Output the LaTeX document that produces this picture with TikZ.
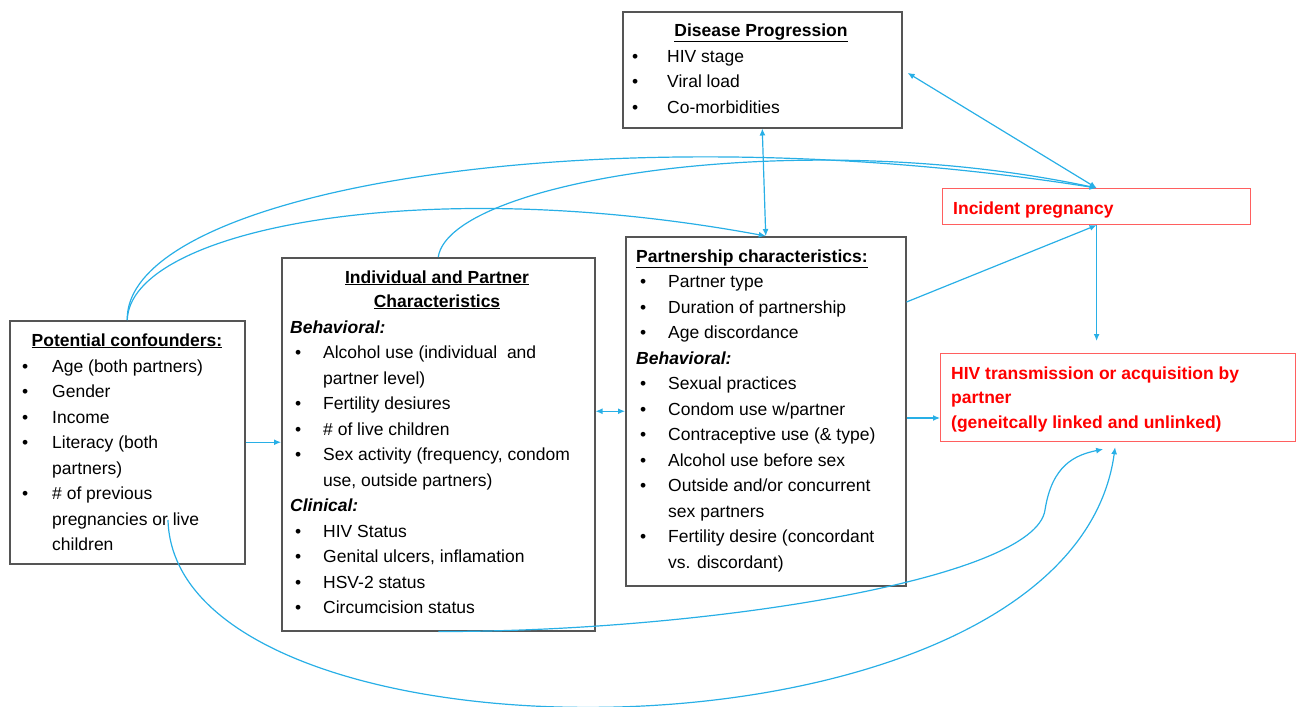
\documentclass[tikz,border=0pt]{standalone}
\usepackage{fontspec}
\setmainfont{Liberation Sans}
\usetikzlibrary{arrows.meta,calc}
\definecolor{arr}{RGB}{40,175,230}
\definecolor{hred}{RGB}{255,0,0}
\definecolor{bred}{RGB}{255,95,95}
\definecolor{bgray}{RGB}{85,85,85}
\newlength\bind
\newlength\tind
\newcommand\itm[1]{\par\hangindent=\tind\hangafter=1\noindent\hspace*{\bind}\makebox[\dimexpr\tind-\bind\relax][l]{\textbullet}#1}
\newcommand\hdr[1]{\par\noindent\textbf{\textit{#1}}}
\tikzset{
  box/.style={draw=bgray, line width=1.5pt, inner sep=0pt, anchor=north west},
  rbox/.style={draw=bred, line width=1.2pt, inner sep=0pt, anchor=north west},
  conn/.style={draw=arr, line width=1.2pt},
  arrowend/.style={-{Latex[length=7pt,width=6pt]}},
  arrowboth/.style={{Latex[length=7pt,width=6pt]}-{Latex[length=7pt,width=6pt]}},
  txt/.style={inner sep=0pt, anchor=base west, font=\fontsize{17.5}{25.5}\selectfont},
  ttl/.style={inner sep=0pt, anchor=base, font=\fontsize{17.5}{24}\selectfont\bfseries},
}
\begin{document}
\begin{tikzpicture}[x=1pt,y=-1pt]
\useasboundingbox (0,0) rectangle (1302,707);
% boxes
\node[box, minimum width=279, minimum height=116] (dis) at (622,11) {};
\node[box, minimum width=235, minimum height=243] (conf) at (9,320) {};
\node[box, minimum width=313, minimum height=373] (indiv) at (281,257) {};
\node[box, minimum width=280, minimum height=349] (part) at (625,236) {};
\node[rbox, minimum width=308, minimum height=36] (inc) at (942,188) {};
\node[rbox, minimum width=355, minimum height=88] (hiv) at (940,353) {};
% Disease progression
\node[ttl] (distitle) at (761,36) {\underline{Disease Progression}};
\node[txt] (dislist) at (632,62) {\parbox[t]{260pt}{\setlength\bind{0pt}\setlength\tind{35pt}\raggedright
\itm{HIV stage}\itm{Viral load}\itm{Co-morbidities}\par}};
% Potential confounders
\node[ttl] (conftitle) at (127,346) {\underline{Potential confounders:}};
\node[txt] (conflist) at (22,372) {\parbox[t]{220pt}{\setlength\bind{0pt}\setlength\tind{30pt}\raggedright
\itm{Age (both partners)}\itm{Gender}\itm{Income}\itm{Literacy (both\newline partners)}\itm{\# of previous\newline pregnancies or live\newline children}\par}};
% Individual and partner
\node[ttl] (indt1) at (437,283) {\underline{Individual and Partner}};
\node[ttl] (indt2) at (437,307) {\underline{Characteristics}};
\node[txt] (indlist) at (290,333) {\parbox[t]{300pt}{\setlength\bind{5pt}\setlength\tind{33pt}\raggedright
\hdr{Behavioral:}\itm{Alcohol use (individual\ \ and\newline partner level)}\itm{Fertility desiures}\itm{\# of live children}\itm{Sex activity (frequency, condom\newline use, outside partners)}\hdr{Clinical:}\itm{HIV Status}\itm{Genital ulcers, inflamation}\itm{HSV-2 status}\itm{Circumcision status}\par}};
% Partnership
\node[txt] (partlist) at (636,262) {\parbox[t]{265pt}{\setlength\bind{4pt}\setlength\tind{32pt}\raggedright
\noindent\underline{\textbf{Partnership characteristics:}}\itm{Partner type}\itm{Duration of partnership}\itm{Age discordance}\hdr{Behavioral:}\itm{Sexual practices}\itm{Condom use w/partner}\itm{Contraceptive use (\& type)}\itm{Alcohol use before sex}\itm{Outside and/or concurrent\newline sex partners}\itm{Fertility desire (concordant\newline vs. discordant)}\par}};
% red boxes
\node[txt, text=hred, font=\fontsize{17.5}{24}\selectfont\bfseries] (inctext) at (953,214) {Incident pregnancy};
\node[txt, text=hred, font=\fontsize{17.5}{24.5}\selectfont\bfseries] (hivtext) at (951,379) {\parbox[t]{340pt}{\raggedright HIV transmission or acquisition by\newline partner\newline (geneitcally linked and unlinked)\par}};
% connectors
\draw[conn, arrowend] (conf.north) .. controls (125,190) and (600,110) .. (inc.north);
\draw[conn, arrowend] (conf.north) .. controls (130,230) and (420,172) .. (part.north);
\draw[conn, arrowend] (indiv.north) .. controls (450,180) and (800,125) .. (inc.north);
\draw[conn, arrowboth] (dis.south) -- (part.north);
\draw[conn, arrowboth, shorten <=6pt] (dis.east) -- (inc.north);
\draw[conn, arrowend] ([yshift=-66pt]part.north east) -- (inc.south);
\draw[conn, arrowend, shorten >=12pt] (inc.south) -- (inc.south |- hiv.north);
\draw[conn, arrowend] ([yshift=-182pt]part.north east) -- ([yshift=-182pt]part.north east -| hiv.west);
\draw[conn, arrowend] (conf.east) -- (conf.east -| indiv.west);
\draw[conn, arrowboth] ([yshift=33pt]indiv.east) -- ([yshift=33pt]indiv.east -| part.west);
\draw[conn, arrowend] (indiv.south) .. controls (700,632) and (1035,580) .. (1045,510) .. controls (1052,465) and (1075,455) .. ([xshift=-15pt,yshift=-7pt]hiv.south);
\coordinate (cstart) at (168,520);
\draw[conn, arrowend] (cstart) .. controls (175,780) and (1070,780) .. ([xshift=-3pt,yshift=-5pt]hiv.south);
\end{tikzpicture}
\end{document}
